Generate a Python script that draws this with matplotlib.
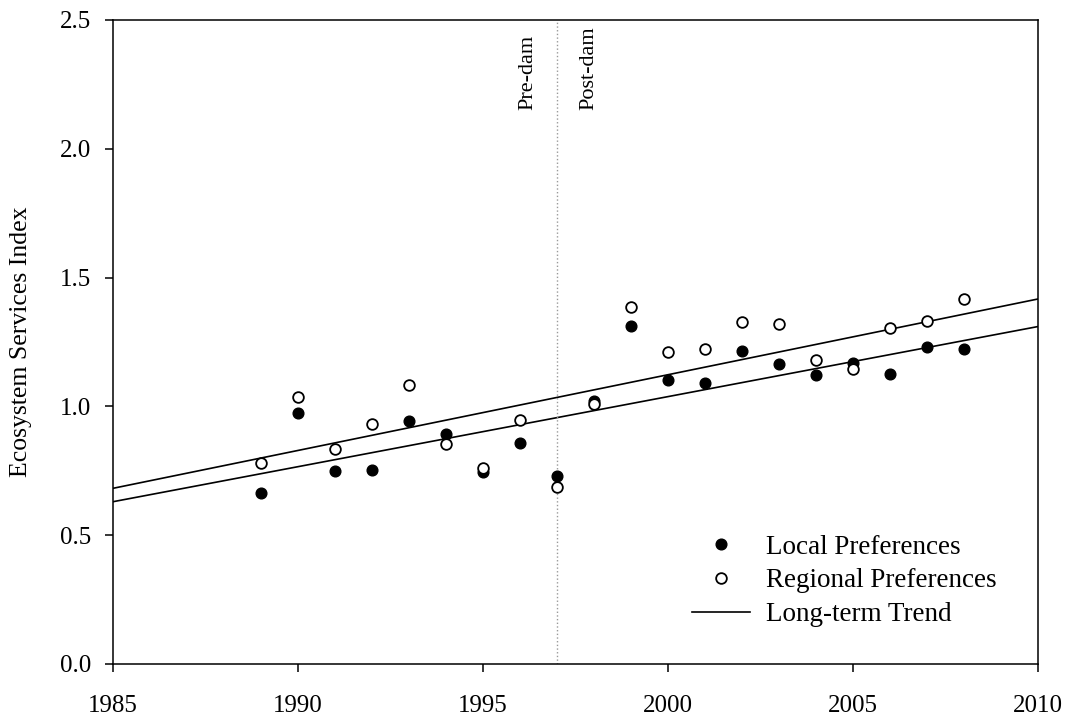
import matplotlib
matplotlib.use('Agg')
import matplotlib.pyplot as plt
from matplotlib.lines import Line2D

plt.rcParams['font.family'] = ['Liberation Serif', 'DejaVu Serif']
plt.rcParams['font.size'] = 18

# data
years = [1989, 1990, 1991, 1992, 1993, 1994, 1995, 1996, 1997, 1998,
         1999, 2000, 2001, 2002, 2003, 2004, 2005, 2006, 2007, 2008]
local_pref = [0.665, 0.974, 0.749, 0.753, 0.942, 0.894, 0.747, 0.859, 0.729, 1.022,
              1.311, 1.104, 1.092, 1.215, 1.163, 1.121, 1.170, 1.126, 1.232, 1.223]
regional_pref = [0.779, 1.035, 0.836, 0.932, 1.082, 0.855, 0.760, 0.948, 0.687, 1.009,
                 1.387, 1.211, 1.222, 1.328, 1.319, 1.181, 1.144, 1.303, 1.333, 1.418]
trend_years = [1985, 2010]
local_trend = [0.630, 1.310]
regional_trend = [0.682, 1.417]
dam_year = 1997

fig = plt.figure(figsize=(10.68, 7.17), dpi=100)
ax = fig.add_axes([113/1068, 53/717, 925/1068, 644/717])

ax.plot(trend_years, regional_trend, color='black', lw=1.2)
ax.plot(trend_years, local_trend, color='black', lw=1.2)
ax.axvline(dam_year, color='#999999', lw=1, ls=':')
ax.plot(years, local_pref, 'o', color='black', ms=7.7, ls='none')
ax.plot(years, regional_pref, 'o', mfc='white', mec='black', mew=1.3, ms=7.7, ls='none')

ax.text(1996.2, 2.15, 'Pre-dam', rotation=90, ha='center', va='bottom', fontsize=16)
ax.text(1997.85, 2.15, 'Post-dam', rotation=90, ha='center', va='bottom', fontsize=16)

ax.set_xlim(1985, 2010)
ax.set_ylim(0, 2.5)
ax.set_xticks(range(1985, 2011, 5))
ax.set_yticks([0.0, 0.5, 1.0, 1.5, 2.0, 2.5])
ax.set_yticklabels(['0.0', '0.5', '1.0', '1.5', '2.0', '2.5'])
ax.tick_params(direction='out', length=6, width=1.1)
ax.tick_params(axis='x', pad=16)
ax.tick_params(axis='y', pad=10)
for s in ax.spines.values():
    s.set_linewidth(1.1)
ax.set_ylabel('Ecosystem Services Index', fontsize=18.5)
ax.yaxis.set_label_coords(-0.088, 0.5)

handles = [
    Line2D([], [], marker='o', color='black', ls='none', ms=7.7),
    Line2D([], [], marker='o', mfc='white', mec='black', mew=1.3, ls='none', ms=7.7),
    Line2D([], [], color='black', lw=1.2),
]
labels = ['Local Preferences', 'Regional Preferences', 'Long-term Trend']
fig.legend(handles, labels, loc='lower left', bbox_to_anchor=(692/1068, 90/717),
           frameon=False, borderpad=0, handlelength=2.15, handletextpad=0.6,
           labelspacing=0.32, borderaxespad=0, fontsize=19.5)

fig.savefig('out.png', dpi=100)
